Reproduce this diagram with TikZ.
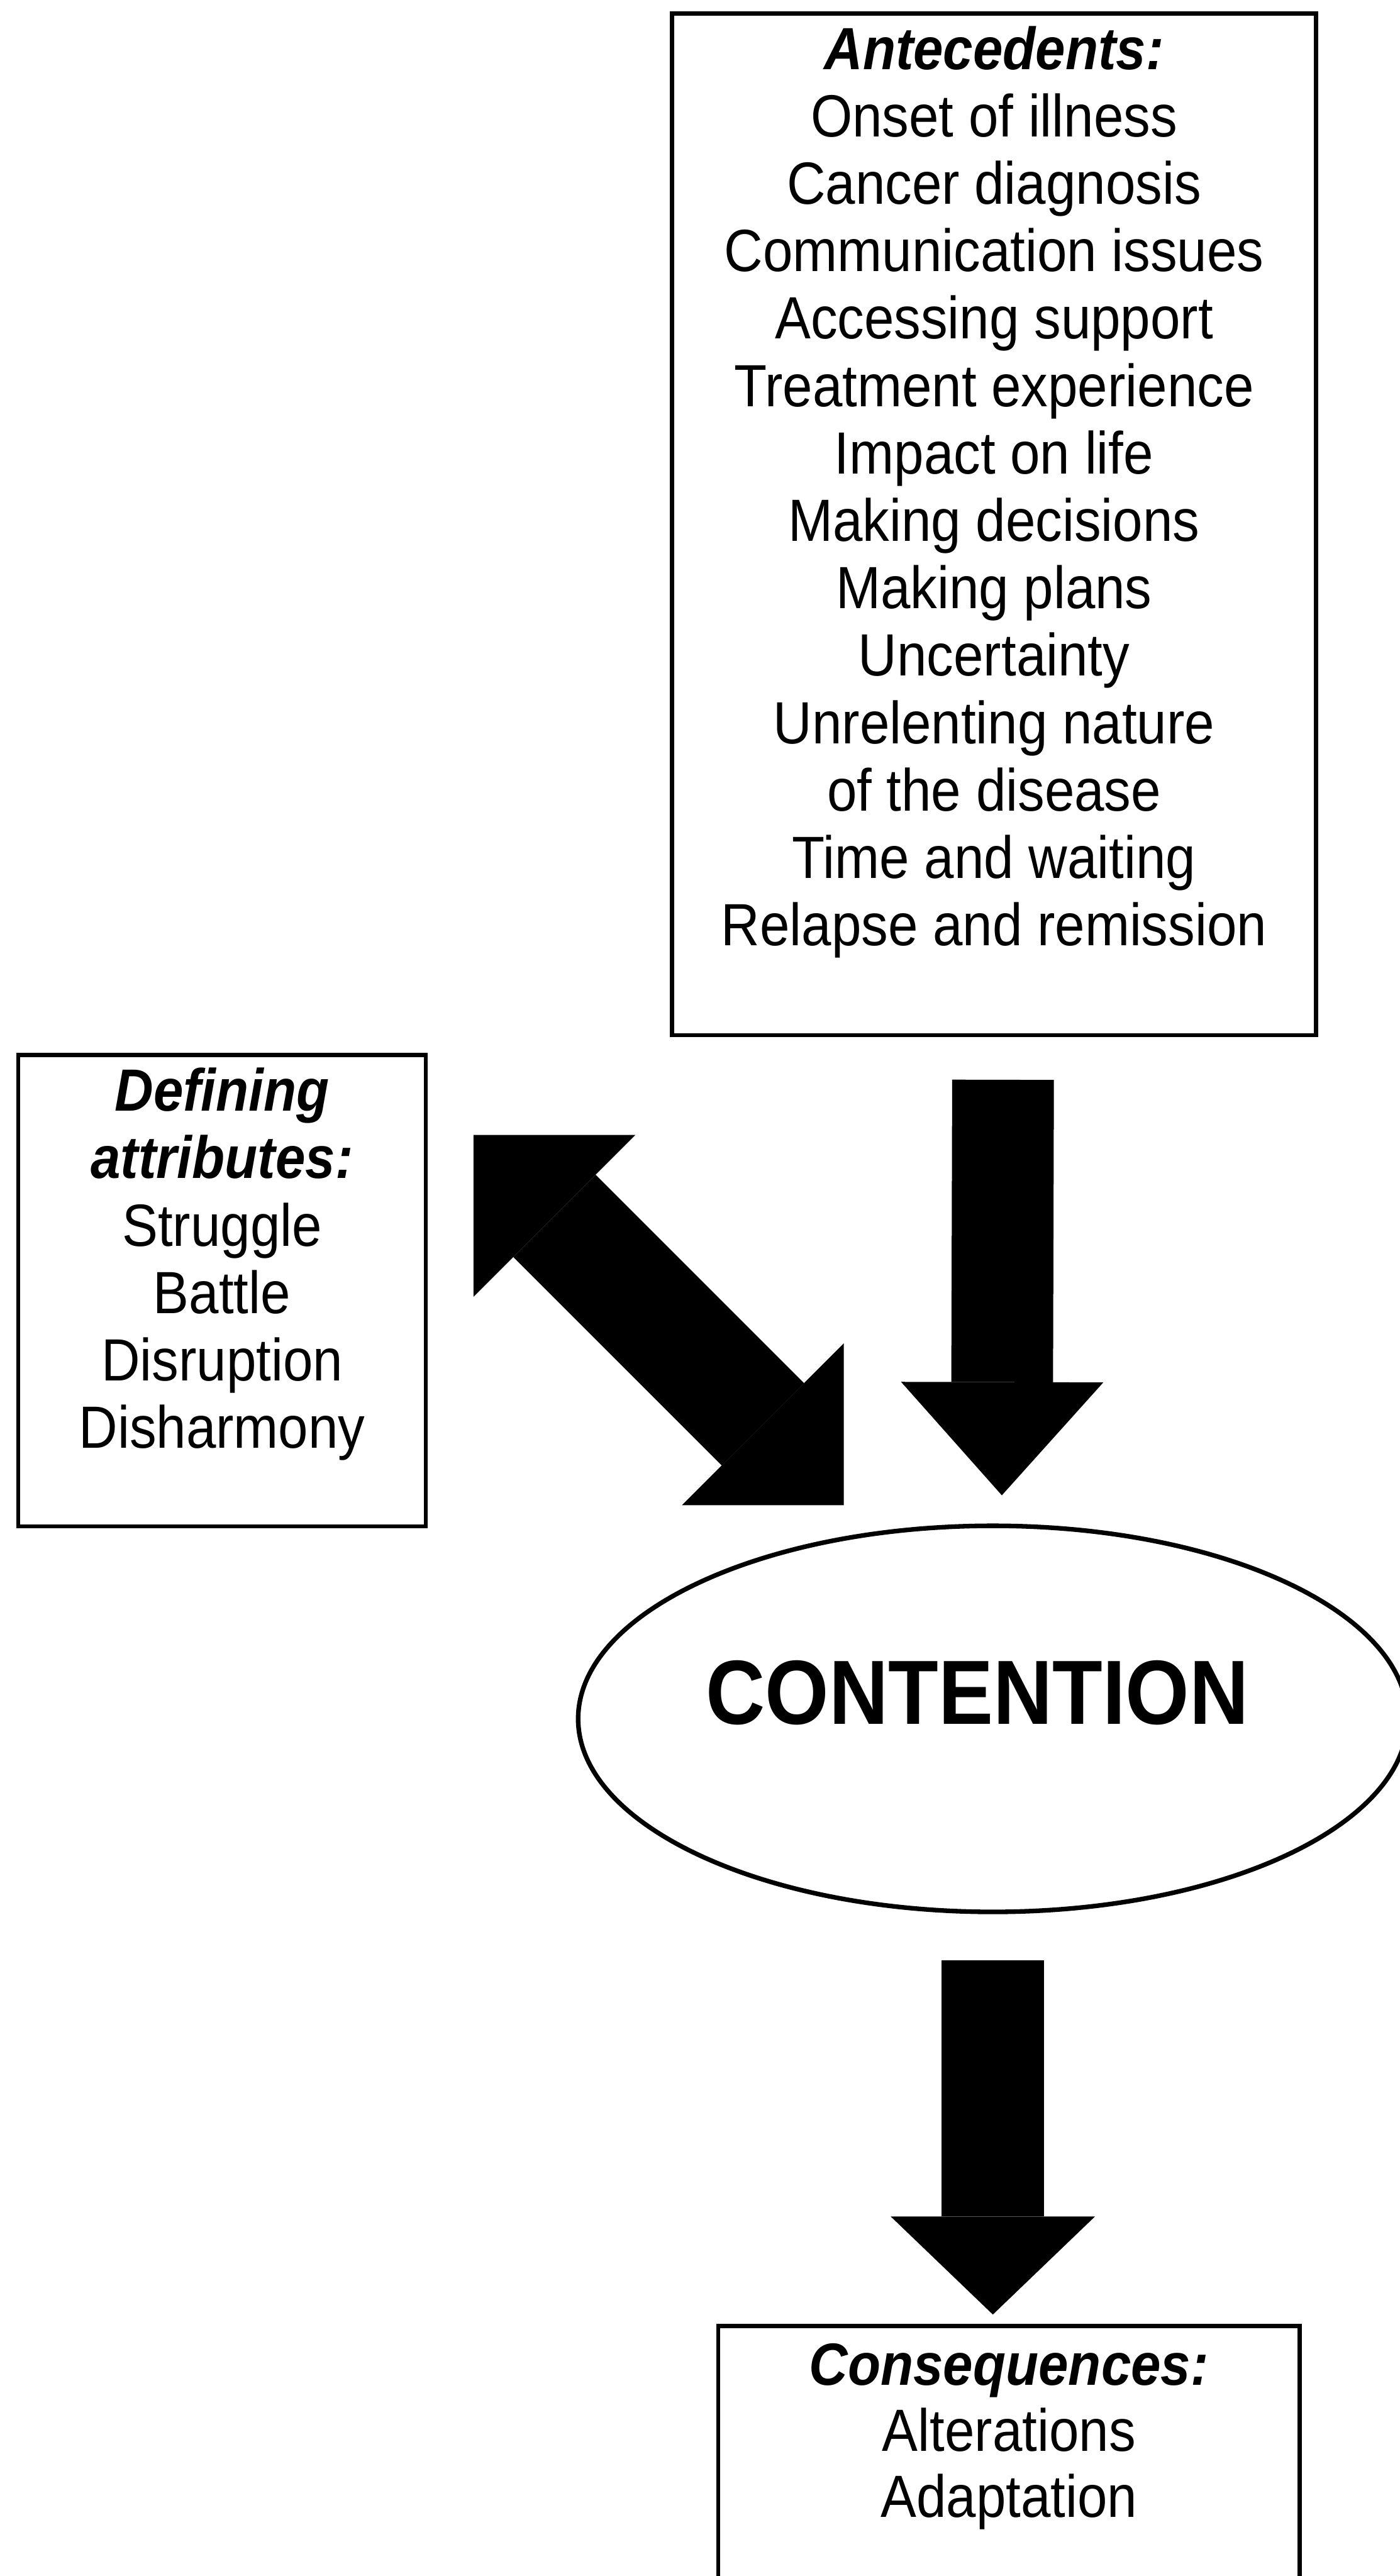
\documentclass[tikz,border=0pt]{standalone}
\usepackage{fontspec}
\setmainfont{Liberation Sans}[FakeStretch=0.9]
\usetikzlibrary{positioning}
\usetikzlibrary{shapes.geometric}
\usetikzlibrary{arrows.meta}

\tikzset{
  frame/.style={draw, line width=2.8pt, inner sep=0pt, anchor=north west},
  words/.style={align=center, inner sep=0pt, font=\fontsize{41.5}{46.95}\selectfont},
  uptip/.tip={Triangle[length=2.77cm, width=4.95cm, line width=0pt]},
  lowtip/.tip={Triangle[length=2.4cm, width=5cm, line width=0pt]},
  slanttip/.tip={Triangle[length=2.8cm, width=5.6cm, line width=0pt]}
}

\begin{document}
\begin{tikzpicture}

\useasboundingbox (0,0) rectangle (34.25,-63.05);

\node[frame, minimum width=15.76cm, minimum height=25.01cm] (ante) at (16.40,-0.28) {};
\node[words, below=0.35cm of ante.north] (antetext) {{\bfseries\itshape Antecedents:}\\
Onset of illness\\ Cancer diagnosis\\ Communication issues\\ Accessing support\\
Treatment experience\\ Impact on life\\ Making decisions\\ Making plans\\
Uncertainty\\ Unrelenting nature\\ of the disease\\ Time and waiting\\
Relapse and remission};

\node[frame, minimum width=9.97cm, minimum height=11.54cm] (defi) at (0.40,-25.77) {};
\node[words, below=0.36cm of defi.north] (defitext) {{\bfseries\itshape Defining}\\
{\bfseries\itshape attributes:}\\ Struggle\\ Battle\\ Disruption\\ Disharmony};

\node[ellipse, draw, line width=3.2pt, inner sep=0pt, minimum width=20.3cm, minimum height=9.45cm] (cont) at (24.30,-42.07) {};
\node[anchor=base, inner sep=0pt, font=\fontsize{63.5}{70}\selectfont\bfseries] (conttext) at ([xshift=-0.38cm, yshift=-0.13cm]cont.center) {CONTENTION};

\node[frame, minimum width=14.23cm, minimum height=8cm] (cons) at (17.53,-56.88) {};
\node[words, below=0.47cm of cons.north, font=\fontsize{41.5}{46}\selectfont] (constext) {{\bfseries\itshape Consequences:}\\
Alterations\\ Adaptation};

\draw[line width=2.49cm, -uptip] ([xshift=2.2mm, yshift=-1.04cm]ante.south) -- ([xshift=2.2mm, yshift=0.69cm]cont.north);

\coordinate (cbase) at (cont.south |- cons.north);
\draw[line width=2.5cm, -lowtip] ([yshift=-1.13cm]cont.south) -- ([yshift=0.23cm]cbase);

\coordinate (dtl) at (11.59,-27.78);
\coordinate (dbr) at (20.65,-36.84);
\draw[line width=2.85cm, slanttip-slanttip] (dtl) -- (dbr);

\end{tikzpicture}
\end{document}
